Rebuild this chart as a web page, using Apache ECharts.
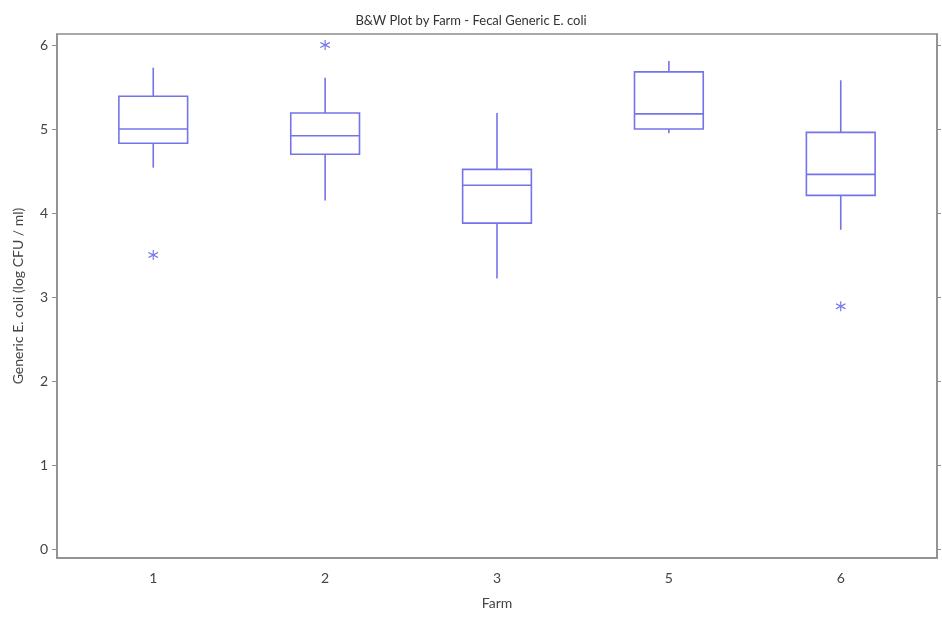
<!DOCTYPE html>
<html>
<head>
<meta charset="utf-8">
<script src="https://cdn.jsdelivr.net/npm/echarts@6/dist/echarts.min.js"></script>
<style>html,body{margin:0;padding:0;background:#fff;}#c{width:942px;height:618px;}</style>
</head>
<body>
<div id="c"></div>
<script>
var categories = ['1', '2', '3', '5', '6'];
// [whiskerLow, Q1, median, Q3, whiskerHigh]
var boxValues = [
  [4.54, 4.83, 5.00, 5.39, 5.73],
  [4.15, 4.70, 4.92, 5.19, 5.61],
  [3.22, 3.88, 4.33, 4.52, 5.19],
  [4.95, 5.00, 5.18, 5.68, 5.81],
  [3.80, 4.21, 4.46, 4.96, 5.58]
];
// [category index, value]
var outliers = [[0, 3.50], [1, 6.00], [4, 2.89]];
var yTicks = [0, 1, 2, 3, 4, 5, 6];

var FONT = 'Lato';
var boxColor = '#7474ea';
var frameColor = '#8c8c8c';
var asterisk = 'path://M9 0L11 0L11 20L9 20Z M18.16 15.87L19.16 14.13L1.84 4.13L0.84 5.87Z M19.16 5.87L18.16 4.13L0.84 14.13L1.84 15.87Z';

var chart = echarts.init(document.getElementById('c'), null, {renderer: 'canvas'});
var boxData = boxValues.map(function (v, i) { return [i + 1].concat(v); });
var outData = outliers.map(function (o) { return [o[0] + 1, o[1]]; });
var catPos = categories.map(function (c, i) { return i + 1; });

chart.setOption({
  animation: false,
  backgroundColor: '#fff',
  title: {
    text: 'B&W Plot by Farm - Fecal Generic E. coli',
    left: 'center', top: 9,
    textStyle: {fontFamily: FONT, fontSize: 13, fontWeight: 'normal', color: '#333'}
  },
  grid: {left: 57, right: 5, top: 34, bottom: 60, show: true, borderColor: frameColor, borderWidth: 1.5, containLabel: false},
  xAxis: {
    type: 'value', min: 0.44, max: 5.56,
    name: 'Farm', nameLocation: 'middle', nameGap: 38,
    nameTextStyle: {fontFamily: FONT, fontSize: 14, color: '#444'},
    axisLine: {show: true, onZero: false, lineStyle: {color: frameColor, width: 1.5}},
    axisTick: {show: false},
    splitLine: {show: false},
    axisLabel: {
      customValues: catPos, margin: 13,
      fontFamily: FONT, fontSize: 14, color: '#444',
      formatter: function (v) { return categories[Math.round(v) - 1] || ''; }
    }
  },
  yAxis: [{
    type: 'value', min: -0.107, max: 6.131, position: 'left',
    name: 'Generic E. coli (log CFU / ml)', nameLocation: 'middle', nameGap: 32,
    nameTextStyle: {fontFamily: FONT, fontSize: 14, color: '#444'},
    axisLine: {show: true, onZero: false, lineStyle: {color: frameColor, width: 1.5}},
    axisTick: {show: true, customValues: yTicks, length: 5, lineStyle: {color: frameColor}},
    splitLine: {show: false},
    axisLabel: {customValues: yTicks, margin: 9, fontFamily: FONT, fontSize: 14, color: '#444'}
  }, {
    type: 'value', min: -0.107, max: 6.131, position: 'right',
    axisLine: {show: true, onZero: false, lineStyle: {color: frameColor, width: 1.5}},
    axisTick: {show: true, customValues: yTicks, length: 4, lineStyle: {color: frameColor}},
    splitLine: {show: false},
    axisLabel: {show: false}
  }],
  series: [{
    type: 'custom',
    data: boxData,
    encode: {x: 0, y: [1, 2, 3, 4, 5]},
    renderItem: function (params, api) {
      var x = api.value(0);
      var w = api.size([0.4, 0])[0];
      var pLow = api.coord([x, api.value(1)]);
      var pQ1 = api.coord([x, api.value(2)]);
      var pMed = api.coord([x, api.value(3)]);
      var pQ3 = api.coord([x, api.value(4)]);
      var pHigh = api.coord([x, api.value(5)]);
      var cx = pQ1[0];
      var st = {stroke: boxColor, lineWidth: 1.6, fill: null};
      return {
        type: 'group',
        children: [
          {type: 'line', shape: {x1: cx, y1: pLow[1], x2: cx, y2: pQ1[1]}, style: st},
          {type: 'line', shape: {x1: cx, y1: pQ3[1], x2: cx, y2: pHigh[1]}, style: st},
          {type: 'rect', shape: {x: cx - w / 2, y: pQ3[1], width: w, height: pQ1[1] - pQ3[1]}, style: {stroke: boxColor, lineWidth: 1.6, fill: 'rgba(0,0,0,0)'}},
          {type: 'line', shape: {x1: cx - w / 2, y1: pMed[1], x2: cx + w / 2, y2: pMed[1]}, style: st}
        ]
      };
    }
  }, {
    type: 'scatter',
    data: outData,
    symbol: asterisk,
    symbolSize: 10,
    itemStyle: {color: '#4444e4'}
  }]
});
</script>
</body>
</html>
